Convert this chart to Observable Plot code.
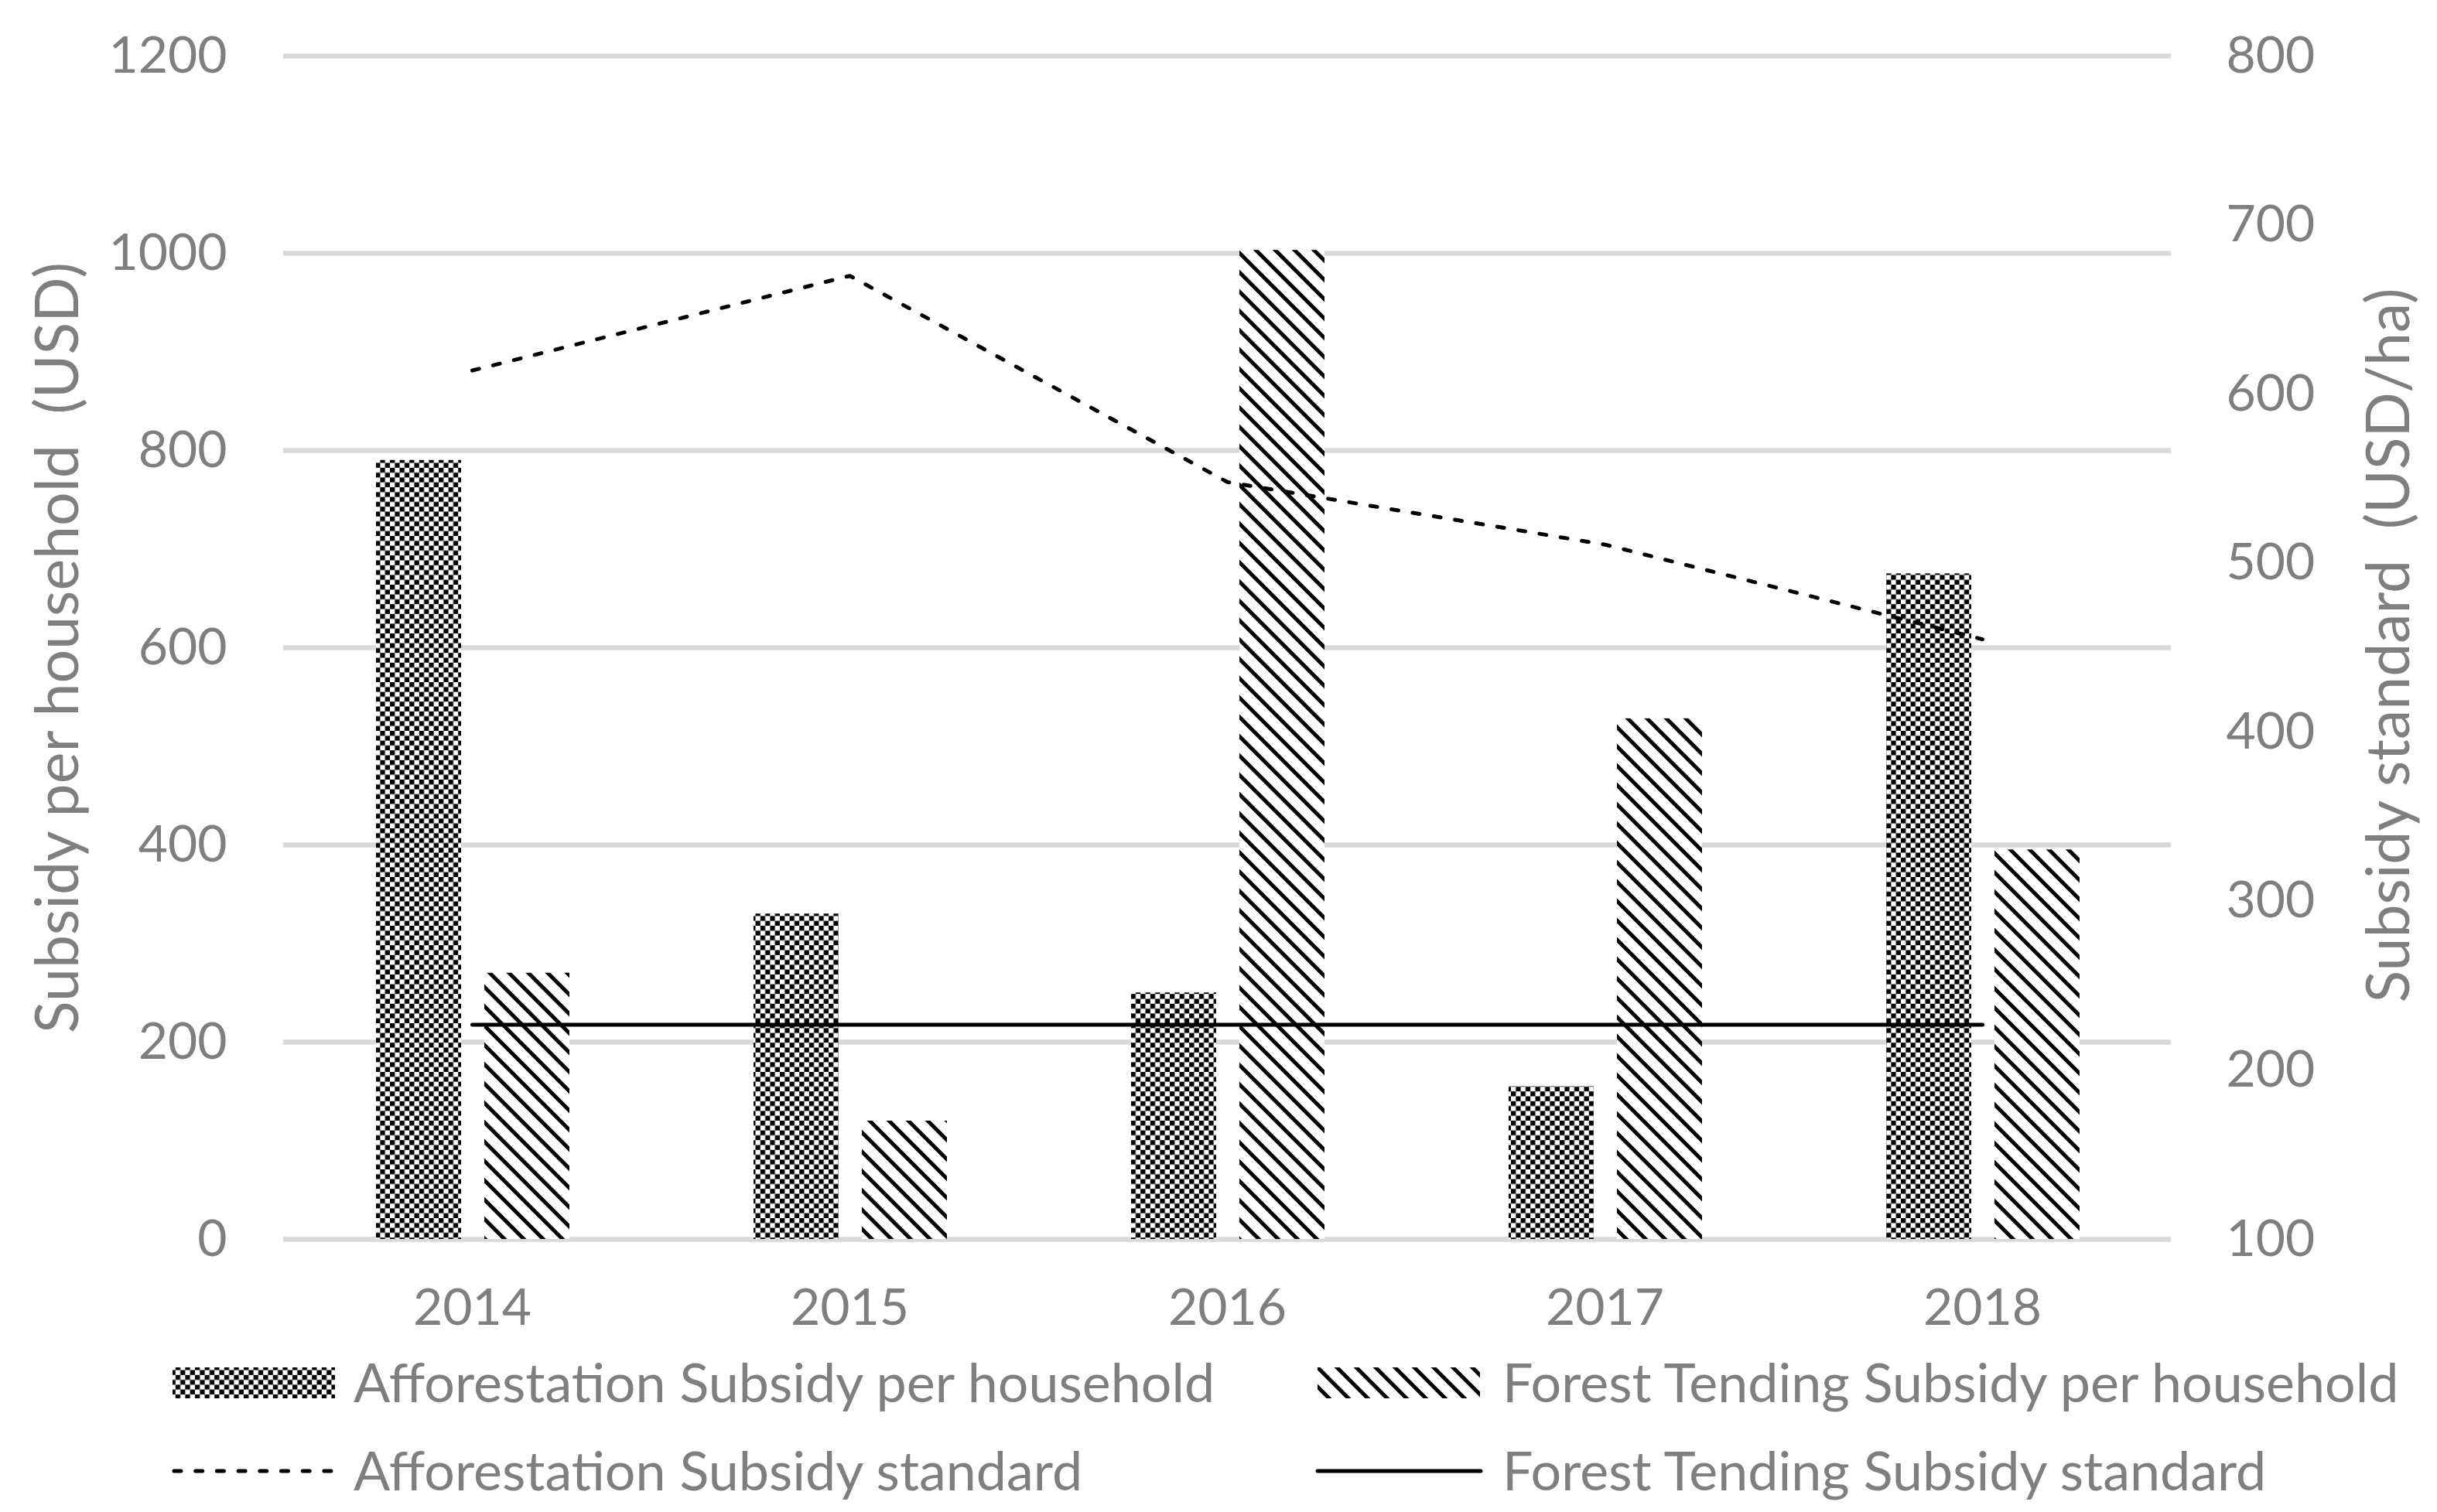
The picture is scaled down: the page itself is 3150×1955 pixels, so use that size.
<!DOCTYPE html>
<html>
<head>
<meta charset="utf-8">
<script src="https://cdn.jsdelivr.net/npm/d3@7"></script>
<script src="https://cdn.jsdelivr.net/npm/@observablehq/plot@0.6"></script>
<style>
  body { margin: 0; background: #fff; }
  #chart { position: relative; width: 3150px; height: 1955px; background: #fff; }
  #chart svg { display: block; }
  svg text { font-family: Lato, "Noto Sans", sans-serif; white-space: pre; }
</style>
</head>
<body>
<svg width="0" height="0" style="position:absolute">
  <defs>
    <pattern id="checker" patternUnits="userSpaceOnUse" width="12.6" height="12.6">
      <rect width="12.6" height="12.6" fill="#fff"/>
      <rect width="6.3" height="6.3" fill="#000"/>
      <rect x="6.3" y="6.3" width="6.3" height="6.3" fill="#000"/>
    </pattern>
    <pattern id="diag" patternUnits="userSpaceOnUse" width="25" height="25">
      <rect width="25" height="25" fill="#fff"/>
      <path d="M-6,-6L31,31M-6,19L6,31M19,-6L31,6" stroke="#000" stroke-width="5"/>
    </pattern>
  </defs>
</svg>
<div id="chart"></div>
<script>
// ---- data ----
const years = ["2014", "2015", "2016", "2017", "2018"];
const afforestationPerHousehold = [790, 330, 250, 155, 675];      // USD, left axis
const tendingPerHousehold = [270, 120, 1003, 528, 395];           // USD, left axis
const afforestationStandard = [614, 670, 548, 511, 455];          // USD/ha, right axis
const tendingStandard = [227, 227, 227, 227, 227];                // USD/ha, right axis
const leftTicks = [0, 200, 400, 600, 800, 1000, 1200];
const rightTicks = [100, 200, 300, 400, 500, 600, 700, 800];
const seriesNames = [
  "Afforestation Subsidy per household",
  "Forest Tending Subsidy per household",
  "Afforestation Subsidy standard",
  "Forest Tending Subsidy standard"
];
const leftTitle = "Subsidy per household  (USD)";
const rightTitle = "Subsidy standard  (USD/ha)";

// ---- helpers ----
const leftMax = 1200, rightMin = 100, rightMax = 800;
const toLeft = v => (v - rightMin) * leftMax / (rightMax - rightMin);
const fromLeft = d => Math.round(d * (rightMax - rightMin) / leftMax + rightMin);

const affRows = years.map((y, i) => ({year: y, value: afforestationPerHousehold[i]}));
const tendRows = years.map((y, i) => ({year: y, value: tendingPerHousehold[i]}));
const affStdRows = years.map((y, i) => ({year: y, value: afforestationStandard[i]}));
const tendStdRows = years.map((y, i) => ({year: y, value: tendingStandard[i]}));

const TEXT = "#7f7f7f";
const FS = 66;        // tick labels
const FS_TITLE = 77;  // axis titles
const FS_LEG = 70;    // legend

const plot = Plot.plot({
  width: 3150,
  height: 1740,
  marginLeft: 366,
  marginRight: 344,
  marginTop: 72,
  marginBottom: 138,
  style: {fontFamily: "Lato, 'Noto Sans', sans-serif", fontSize: FS + "px", color: TEXT, background: "transparent"},
  x: {type: "band", domain: years, padding: 0, label: null},
  y: {domain: [0, leftMax], label: null},
  marks: [
    Plot.gridY(leftTicks, {stroke: "#d9d9d9", strokeWidth: 6.5, strokeOpacity: 1}),
    Plot.barY(affRows, {x: "year", y: "value", fill: "url(#checker)", insetLeft: 120, insetRight: 258}),
    Plot.barY(tendRows, {x: "year", y: "value", fill: "url(#diag)", insetLeft: 260, insetRight: 118}),
    Plot.line(affStdRows, {x: "year", y: d => toLeft(d.value), stroke: "#000", strokeWidth: 5,
      strokeDasharray: "9,18.7", strokeLinecap: "round"}),
    Plot.line(tendStdRows, {x: "year", y: d => toLeft(d.value), stroke: "#000", strokeWidth: 5}),
    Plot.axisX({tickSize: 0, tickPadding: 64, label: null, fontSize: FS}),
    Plot.axisY(leftTicks, {anchor: "left", tickSize: 0, tickPadding: 73, label: null,
      tickFormat: d => String(d), fontSize: FS}),
    Plot.axisY(rightTicks.map(toLeft), {anchor: "right", tickSize: 0, tickPadding: 71, label: null,
      tickFormat: d => String(fromLeft(d)), fontSize: FS}),
    Plot.text([leftTitle], {frameAnchor: "left", text: d => d, dx: -290, dy: 0, rotate: -90,
      fill: TEXT, fontSize: FS_TITLE, textAnchor: "middle"}),
    Plot.text([rightTitle], {frameAnchor: "right", text: d => d, dx: 283, dy: -3, rotate: -90,
      fill: TEXT, fontSize: FS_TITLE, textAnchor: "middle"})
  ]
});

const chart = document.getElementById("chart");
chart.appendChild(plot);

// ---- legend (below the plot SVG) ----
const leg = d3.create("svg").attr("width", 3150).attr("height", 215);
const rowY = [48, 162];
const colX = [223, 1703];
const textX = [457, 1942];
// row 1: bar swatches
leg.append("rect").attr("x", colX[0]).attr("y", rowY[0] - 20).attr("width", 210).attr("height", 40).attr("fill", "url(#checker)");
leg.append("rect").attr("x", colX[1]).attr("y", rowY[0] - 20).attr("width", 210).attr("height", 40).attr("fill", "url(#diag)");
// row 2: line swatches
leg.append("line").attr("x1", colX[0] + 2).attr("x2", colX[0] + 207).attr("y1", rowY[1]).attr("y2", rowY[1])
  .attr("stroke", "#000").attr("stroke-width", 5).attr("stroke-dasharray", "9,18.7").attr("stroke-linecap", "round");
leg.append("line").attr("x1", colX[1]).attr("x2", colX[1] + 211).attr("y1", rowY[1]).attr("y2", rowY[1])
  .attr("stroke", "#000").attr("stroke-width", 5).attr("stroke-linecap", "round");
const labels = [
  [textX[0], rowY[0], seriesNames[0]],
  [textX[1], rowY[0], seriesNames[1]],
  [textX[0], rowY[1], seriesNames[2]],
  [textX[1], rowY[1], seriesNames[3]]
];
labels.forEach(([x, y, t]) => {
  leg.append("text").attr("x", x).attr("y", y).attr("dy", "0.36em")
    .attr("fill", TEXT).attr("font-size", FS_LEG).text(t);
});
chart.appendChild(leg.node());
</script>
</body>
</html>
